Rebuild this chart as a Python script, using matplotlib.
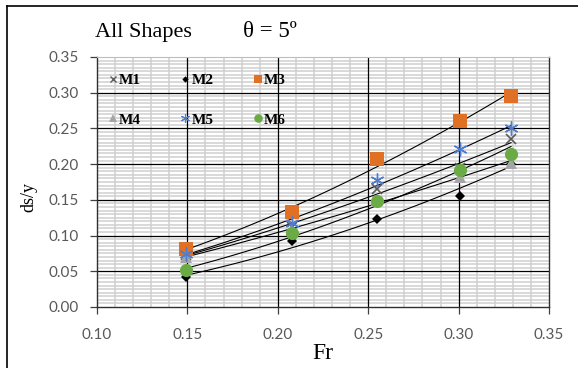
import numpy as np
import matplotlib
matplotlib.use("Agg")
import matplotlib.pyplot as plt
from matplotlib.lines import Line2D
from matplotlib.ticker import FixedLocator, FormatStrFormatter

# Data
fr = [0.149, 0.208, 0.255, 0.301, 0.329]
m1 = [0.073, 0.112, 0.165, 0.195, 0.235]
m2 = [0.042, 0.092, 0.123, 0.155, 0.200]
m3 = [0.081, 0.133, 0.207, 0.260, 0.296]
m4 = [0.070, 0.108, 0.150, 0.182, 0.202]
m5 = [0.074, 0.118, 0.178, 0.221, 0.251]
m6 = [0.052, 0.103, 0.148, 0.192, 0.214]
labels = ["M1", "M2", "M3", "M4", "M5", "M6"]
x_ticks = [0.10, 0.15, 0.20, 0.25, 0.30, 0.35]
y_ticks = [0.00, 0.05, 0.10, 0.15, 0.20, 0.25, 0.30, 0.35]

W, H = 578, 368
fig = plt.figure(figsize=(W / 100, H / 100), dpi=100)
ax = fig.add_axes([97 / W, 1 - 307 / H, (549 - 97) / W, (307 - 57) / H])

ax.set_xlim(0.10, 0.35)
ax.set_ylim(0.0, 0.35)
ax.xaxis.set_major_locator(FixedLocator(x_ticks))
ax.yaxis.set_major_locator(FixedLocator(y_ticks))
xminor = [v for v in np.round(np.arange(0.10, 0.3501, 0.01), 4) if round(v * 100) % 5 != 0]
yminor = [v for v in np.round(np.arange(0.0, 0.3501, 0.005), 4) if round(v * 1000) % 50 != 0]
ax.xaxis.set_minor_locator(FixedLocator(xminor))
ax.yaxis.set_minor_locator(FixedLocator(yminor))
ax.grid(which="minor", color="#cfcfcf", linewidth=1.1)
ax.set_axisbelow(True)
# major gridlines drawn above the minor ones
for v in x_ticks[1:-1]:
    ax.axvline(v, color="black", lw=0.9, zorder=1)
for v in y_ticks[1:-1]:
    ax.axhline(v, color="black", lw=0.9, zorder=1)

ax.tick_params(which="minor", length=0)
ax.tick_params(axis="x", which="major", direction="out", length=5, width=0.9, color="#404040",
               labelsize=11, labelcolor="#595959", pad=10)
ax.tick_params(axis="y", which="major", direction="out", length=5, width=0.9, color="#404040",
               labelsize=11, labelcolor="#595959", pad=8)
ax.xaxis.set_major_formatter(FormatStrFormatter("%.2f"))
ax.yaxis.set_major_formatter(FormatStrFormatter("%.2f"))
for lab in ax.get_xticklabels() + ax.get_yticklabels():
    lab.set_family("Lato")
for s in ["left", "bottom", "right"]:
    ax.spines[s].set_color("#303030")
    ax.spines[s].set_linewidth(1.0)
ax.spines["top"].set_color("#bdbdbd")

series = [m1, m2, m3, m4, m5, m6]
styles = [
    dict(marker="x", color="#595959", ms=7, mew=1.2),
    dict(marker="D", color="black", ms=5, mew=0),
    dict(marker="s", color="#e07124", ms=9.5, mew=0),
    dict(marker="^", color="#a5a5a5", ms=8, mew=0),
    dict(marker=(6, 2, 0), color="#4d7cd0", ms=10, mew=1.0),
    dict(marker="o", color="#6aab45", ms=9.5, mew=0),
]

x = np.array(fr)
for ys in series:
    y = np.array(ys)
    b, a = np.polyfit(np.log(x), np.log(y), 1)
    xx = np.linspace(x[0], x[-1], 100)
    ax.plot(xx, np.exp(a) * xx ** b, color="black", lw=0.8, zorder=3)

handles = []
for ys, st, lab in zip(series, styles, labels):
    ax.plot(fr, ys, linestyle="none", marker=st["marker"], color=st["color"],
            markersize=st["ms"], markeredgewidth=st["mew"], zorder=4)
    handles.append(Line2D([], [], linestyle="none", marker=st["marker"], color=st["color"],
                          markersize=st["ms"] * 0.65, markeredgewidth=st["mew"] * 0.8, label=lab))

order = [0, 3, 1, 4, 2, 5]
leg = ax.legend(handles=[handles[i] for i in order], ncol=3, loc="upper left",
                bbox_to_anchor=(0.025, 0.935),
                frameon=False, handlelength=0.6, handletextpad=0.1, columnspacing=2.6,
                labelspacing=1.7, borderaxespad=0, borderpad=0,
                prop={"family": "Liberation Serif", "weight": "bold", "size": 11})

ax.set_xlabel("Fr", family="Liberation Serif", fontsize=17, labelpad=1)
ax.set_ylabel("ds/y", family="Liberation Serif", fontsize=13)
ax.yaxis.set_label_coords((37 - 97) / 452, 0.44)

fig.text(95 / W, 1 - 37 / H, "All Shapes", family="Liberation Serif", fontsize=16, va="baseline")
fig.text(243 / W, 1 - 37 / H, "θ = 5º", family=["Liberation Serif", "DejaVu Serif"], fontsize=16.5, va="baseline")

# outer border (top and left)
fig.add_artist(Line2D([7 / W, 1.0], [1 - 6 / H, 1 - 6 / H], color="black", lw=1.2, transform=fig.transFigure))
fig.add_artist(Line2D([7 / W, 7 / W], [0.0, 1 - 6 / H], color="black", lw=1.2, transform=fig.transFigure))

fig.savefig("out.png", dpi=100)
